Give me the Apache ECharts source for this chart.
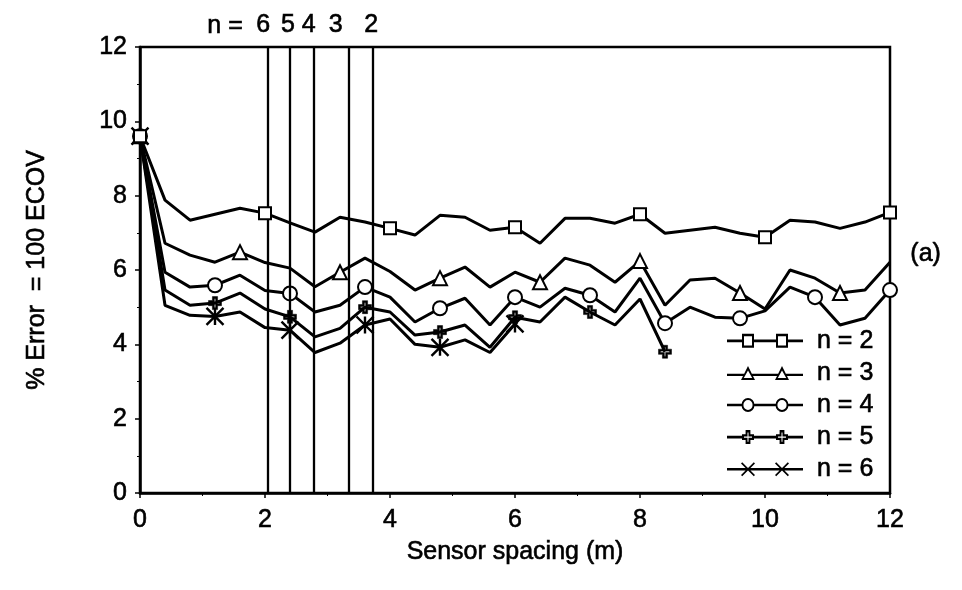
<!DOCTYPE html>
<html>
<head>
<meta charset="utf-8">
<script src="https://cdn.jsdelivr.net/npm/echarts@6/dist/echarts.min.js"></script>
<style>html,body{margin:0;padding:0;background:#fff}#c{width:962px;height:590px}</style>
</head>
<body>
<div id="c"></div>
<script>
// Sensor spacing (m)
const spacing = [0,0.4,0.8,1.2,1.6,2.0,2.4,2.8,3.2,3.6,4.0,4.4,4.8,5.2,5.6,6.0,6.4,6.8,7.2,7.6,8.0,8.4,8.8,9.2,9.6,10.0,10.4,10.8,11.2,11.6,12.0];
const n2 = [9.6,7.88,7.34,7.5,7.66,7.53,7.27,7.02,7.42,7.29,7.12,6.94,7.47,7.42,7.07,7.15,6.72,7.39,7.39,7.26,7.5,6.99,7.07,7.15,6.99,6.88,7.34,7.29,7.12,7.29,7.55];
const n3 = [9.6,6.72,6.4,6.21,6.48,6.2,6.05,5.55,5.94,6.32,5.96,5.46,5.78,6.08,5.54,5.94,5.67,6.32,6.13,5.67,6.24,5.05,5.73,5.78,5.38,4.95,6.0,5.78,5.38,5.46,6.21];
const n4 = [9.6,5.94,5.54,5.59,5.86,5.45,5.37,4.87,5.05,5.54,5.27,4.6,4.97,5.24,4.52,5.27,5.0,5.51,5.32,4.87,5.78,4.57,5.0,4.73,4.7,4.9,5.54,5.27,4.52,4.7,5.46];
const n5 = [9.6,5.46,5.05,5.11,5.38,4.95,4.74,4.2,4.43,5.0,4.87,4.25,4.33,4.52,3.92,4.73,4.6,5.27,4.87,4.52,5.22,3.8];
const n6 = [9.6,5.05,4.78,4.75,4.87,4.45,4.38,3.78,4.03,4.52,4.68,4.0,3.92,4.12,3.78,4.55];
const seriesNames = ['n = 2','n = 3','n = 4','n = 5','n = 6'];
// optimum spacing lines and their labels
const optSpacing = [2.05, 2.4, 2.78, 3.34, 3.73];
const optLabels = ['6','5','4','3','2'];

const FONT = 'Liberation Sans, Arial, Helvetica, sans-serif';
const TXT = {color:'#000', fontFamily:FONT, fontSize:25, textBorderColor:'#000', textBorderWidth:0.6};
const chart = echarts.init(document.getElementById('c'), null, {renderer:'canvas'});

const plusPath = 'path://M3,0H7V3H10V7H7V10H3V7H0V3H3Z M4.5,1.6V4.5H1.6V5.5H4.5V8.4H5.5V5.5H8.4V4.5H5.5V1.6Z';
const xPath = 'path://M0,0L10,10M10,0L0,10M5,0L5,10';

// legend icons: a line with two markers (76 x 14 box), markers centred at 21 and 55
const C = [21, 55];
function bars(y0, y1, gaps){ // gaps: [[a,b],[c,d]] marker extents
  const xs = [0, gaps[0][0], gaps[0][1], gaps[1][0], gaps[1][1], 76];
  let p = '';
  for (let i=0;i<6;i+=2) p += `M${xs[i]},${y0}H${xs[i+1]}V${y1}H${xs[i]}Z`;
  return p;
}
const iconSquare = 'path://' + bars(5.8,8.2,[[15.2,26.8],[49.2,60.8]]) +
  C.map(c=>`M${c-6},1H${c+6}V13H${c-6}Z M${c-4},3V11H${c+4}V3Z`).join('');
const iconTri = 'path://' + bars(7.8,10.2,[[17,25],[51,59]]) +
  C.map(c=>`M${c},0L${c+7},14H${c-7}Z M${c},4.5L${c-4.2},12H${c+4.2}Z`).join('');
const iconCircle = 'path://' + bars(5.8,8.2,[[14.8,27.2],[48.8,61.2]]) +
  C.map(c=>`M${c-6.5},7A6.5,6.5 0 1 1 ${c+6.5},7A6.5,6.5 0 1 1 ${c-6.5},7Z M${c-4.6},7A4.6,4.6 0 1 0 ${c+4.6},7A4.6,4.6 0 1 0 ${c-4.6},7Z`).join('');
const iconPlus = 'path://' + bars(5.8,8.2,[[15.5,26.5],[49.5,60.5]]) +
  C.map(c=>`M${c-2.4},1H${c+2.4}V4.6H${c+6}V9.4H${c+2.4}V13H${c-2.4}V9.4H${c-6}V4.6H${c-2.4}Z M${c-0.5},3V6.5H${c-4}V7.5H${c-0.5}V11H${c+0.5}V7.5H${c+4}V6.5H${c+0.5}V3Z`).join('');
const iconX = 'path://M0,5.8H76V8.2H0Z' +
  C.map(c=>`M${c-7},1.2L${c-5.8},0L${c+7},12.8L${c+5.8},14Z M${c+5.8},0L${c+7},1.2L${c-5.8},14L${c-7},12.8Z`).join('');
const legendIcons = [iconSquare, iconTri, iconCircle, iconPlus, iconX];

const seriesDefs = [
  {data:n2, symbol:'rect', size:12, every:5, fill:'#fff', bw:2},
  {data:n3, symbol:'triangle', size:14, every:4, fill:'#fff', bw:2},
  {data:n4, symbol:'circle', size:14, every:3, fill:'#fff', bw:2},
  {data:n5, symbol:plusPath, size:13, every:3, fill:'#000', bw:0.5},
  {data:n6, symbol:xPath, size:17, every:3, fill:'#000', bw:2.4}
];
const labelOffsets = [-5,-2,-5,-13,-2];

const series = seriesDefs.map((d,k)=>{
  const s = {
    name: seriesNames[k],
    type:'line',
    data: d.data.map((y,i)=> (i % d.every === 0) ? {value:[spacing[i], y]} : {value:[spacing[i], y], symbol:'none'}),
    showAllSymbol:true,
    symbol: d.symbol,
    symbolSize: d.size,
    lineStyle:{color:'#000', width:3},
    itemStyle:{color:d.fill, borderColor:'#000', borderWidth:d.bw},
    emphasis:{disabled:true},
    animation:false,
    z: 5 - k
  };
  if (k===0){
    s.markLine = {
      silent:true,
      symbol:['none','none'],
      animation:false,
      lineStyle:{color:'#000', width:2.3, type:'solid'},
      label:Object.assign({show:true, position:'end', distance:9,
        formatter:(p)=>optLabels[p.dataIndex]}, TXT),
      data: optSpacing.map((v,i)=>({xAxis:v, label:{offset:[labelOffsets[i],0]}}))
    };
  }
  return s;
});

const option = {
  animation:false,
  backgroundColor:'#fff',
  textStyle:{fontFamily:FONT},
  grid:{left:140, right:72, top:47, bottom:97, show:true, borderColor:'#000', borderWidth:2.5, backgroundColor:'transparent'},
  xAxis:{
    type:'value', min:0, max:12, interval:2,
    name:'Sensor spacing (m)', nameLocation:'middle', nameGap:47,
    nameTextStyle:TXT,
    axisLine:{show:true, lineStyle:{color:'#000', width:2.5}},
    axisTick:{show:true, length:5, lineStyle:{color:'#000', width:1.5}},
    minorTick:{show:true, splitNumber:2, length:3, lineStyle:{color:'#000'}},
    splitLine:{show:false},
    axisLabel:Object.assign({margin:15}, TXT)
  },
  yAxis:{
    type:'value', min:0, max:12, interval:2,
    name:'% Error  = 100 ECOV', nameLocation:'middle', nameGap:90,
    nameTextStyle:TXT,
    axisLine:{show:true, lineStyle:{color:'#000', width:2.5}},
    axisTick:{show:true, length:5, lineStyle:{color:'#000', width:1.5}},
    minorTick:{show:true, splitNumber:2, length:3, lineStyle:{color:'#000'}},
    splitLine:{show:false},
    axisLabel:Object.assign({margin:13}, TXT)
  },
  legend:{
    orient:'vertical', left:722, top:323,
    itemWidth:76, itemHeight:14, itemGap:6.5,
    symbolKeepAspect:false,
    itemStyle:{color:'#000', borderWidth:0},
    textStyle:Object.assign({padding:[0,0,0,9]}, TXT),
    data: seriesNames.map((nm,i)=>({name:nm, icon:legendIcons[i]}))
  },
  graphic:[
    {type:'text', left:207, top:13, style:{text:'n =', fill:'#000', font:'25px '+FONT, stroke:'#000', lineWidth:0.6}},
    {type:'text', left:910, top:241, style:{text:'(a)', fill:'#000', font:'25px '+FONT, stroke:'#000', lineWidth:0.6}}
  ],
  series
};
chart.setOption(option);
</script>
</body>
</html>
